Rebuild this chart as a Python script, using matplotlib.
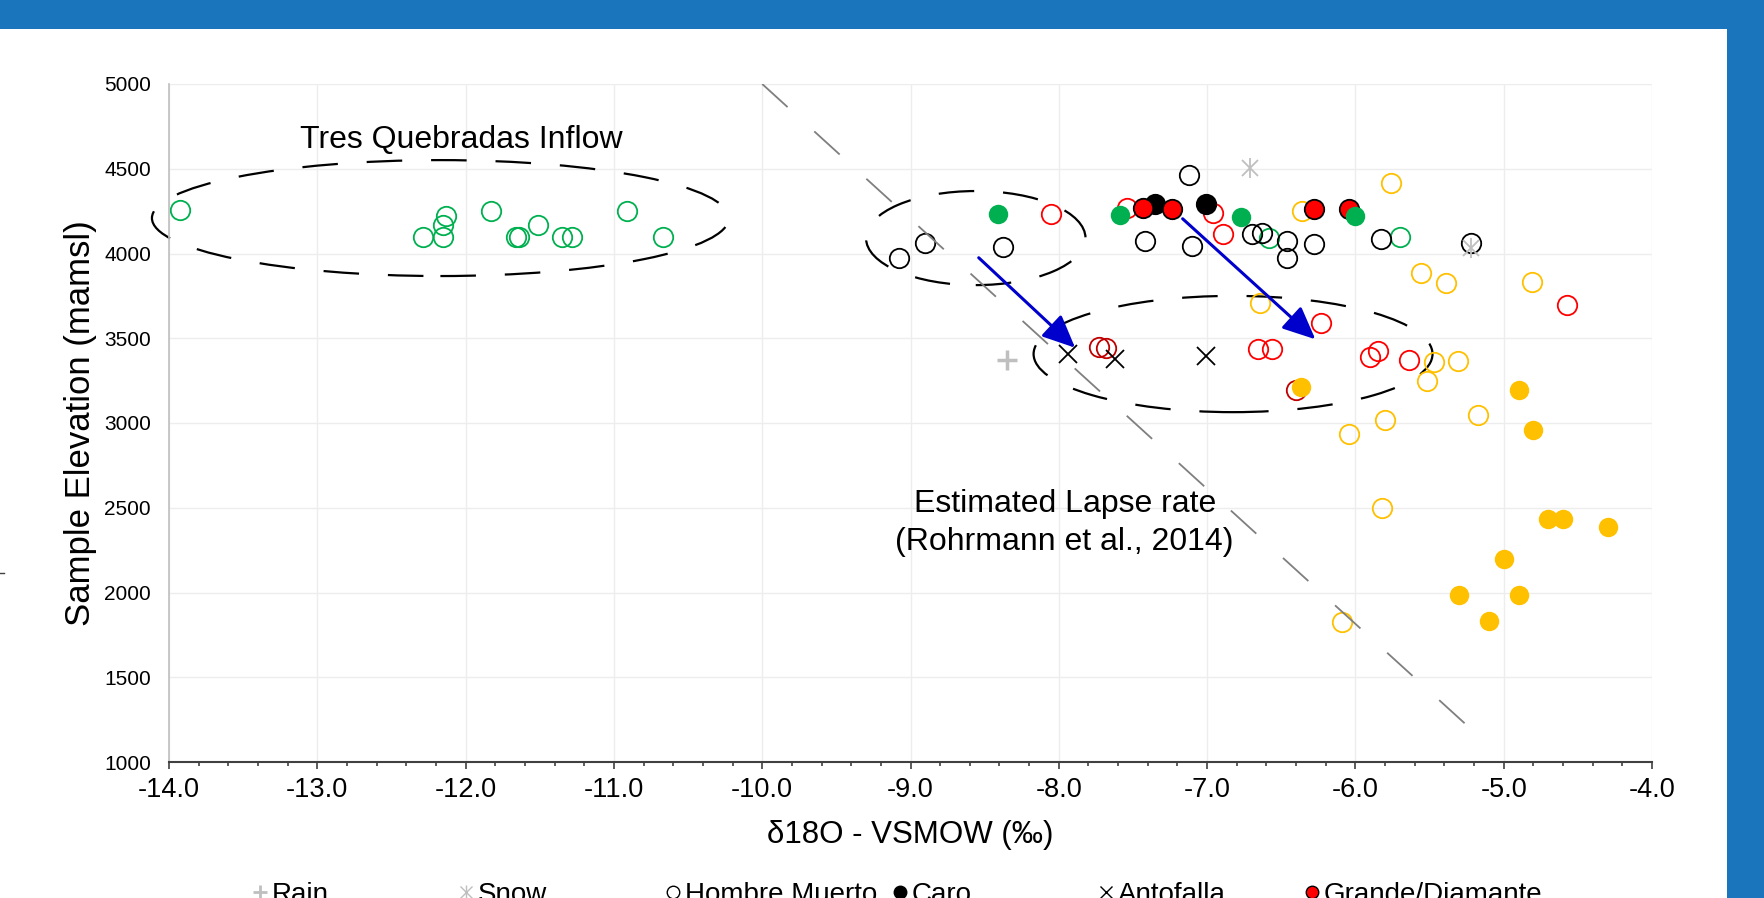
import matplotlib
matplotlib.use("Agg")
import matplotlib.pyplot as plt
from matplotlib.patches import Ellipse, Rectangle
from matplotlib.lines import Line2D

# values (d18O in permil, elevation in m asl)
rain_x = [-8.35]
rain_y = [3370]

snow_x = [-6.71, -5.22]
snow_y = [4502, 4031]

hombre_x = [-9.08, -8.90, -8.375, -7.42, -7.12, -7.10, -6.70, -6.63, -6.46, -6.46, -6.28, -5.83, -5.22]
hombre_y = [3972, 4064, 4040, 4074, 4463, 4044, 4115, 4123, 4074, 3975, 4056, 4083, 4060]

caro_x = [-7.35, -7.005]
caro_y = [4292, 4292]

antofalla_x = [-7.94, -7.62, -7.01]
antofalla_y = [3407, 3378, 3395]

grande_x = [-7.43, -7.24, -6.28, -6.04]
grande_y = [4267, 4262, 4262, 4262]

tresq_x = [-13.925, -12.29, -12.155, -12.15, -12.13, -11.83, -11.66, -11.64, -11.51,
           -11.35, -11.28, -10.91, -10.67, -6.58, -5.70]
tresq_y = [4257, 4095, 4095, 4168, 4223, 4251, 4095, 4095, 4166,
           4095, 4099, 4251, 4095, 4093, 4095]

green_fill_x = [-8.41, -7.59, -6.77, -6.00]
green_fill_y = [4231, 4227, 4217, 4223]

red_open_x = [-8.05, -7.54, -6.96, -6.89, -6.66, -6.56, -6.23, -5.90, -5.85, -5.64, -4.57]
red_open_y = [4231, 4267, 4237, 4113, 3435, 3435, 3592, 3387, 3427, 3372, 3696]

darkred_open_x = [-7.73, -7.68, -6.40]
darkred_open_y = [3450, 3441, 3195]

yellow_open_x = [-6.645, -6.36, -5.76, -5.56, -5.39, -4.81, -5.47, -5.31, -5.52,
                 -5.17, -5.80, -6.04, -5.82, -6.09]
yellow_open_y = [3706, 4250, 4414, 3883, 3828, 3834, 3362, 3365, 3246,
                 3047, 3015, 2937, 2498, 1824]

yellow_fill_x = [-6.37, -4.90, -4.80, -4.70, -4.60, -4.30, -5.00, -5.30, -4.90, -5.10]
yellow_fill_y = [3211, 3195, 2957, 2436, 2436, 2386, 2199, 1983, 1983, 1834]

# lapse-rate line end points and the grouping ellipses (cx, cy, width, height)
lapse_x = [-10.0, -5.19]
lapse_y = [5000, 1170]
groups = [(-12.17, 4209, 3.89, 684), (-8.56, 4091, 1.48, 555), (-6.825, 3407, 2.69, 686)]
shift_arrows = [((-8.54, 3975), (-7.89, 3444)), ((-7.165, 4205), (-6.27, 3494))]

legend_names = ["Rain", "Snow", "Hombre Muerto", "Caro", "Antofalla", "Grande/Diamante"]

plt.rcParams['font.family'] = ['Liberation Sans', 'DejaVu Sans']

BLUE = '#1B75BC'
GREEN = '#00B050'
YELLOW = '#FFC000'


def draw_points(ax):
    ms = 14
    mew = 1.3
    opn = dict(linestyle='none', marker='o', ms=ms, mew=mew, mfc='none')
    ax.plot(tresq_x, tresq_y, mec=GREEN, **opn)
    ax.plot(hombre_x, hombre_y, mec='black', **opn)
    ax.plot(red_open_x, red_open_y, mec='#FF0000', **opn)
    ax.plot(darkred_open_x, darkred_open_y, mec='#C00000', **opn)
    ax.plot(yellow_open_x, yellow_open_y, mec=YELLOW, **opn)

    ax.plot(rain_x, rain_y, linestyle='none', marker='+', ms=14, mew=2.5, color='#BFBFBF')
    # snow asterisk = an x with a vertical bar through it
    ax.plot(snow_x, snow_y, linestyle='none', marker='x', ms=12, mew=1.3, color='#BFBFBF')
    ax.plot(snow_x, snow_y, linestyle='none', marker='|', ms=15, mew=1.3, color='#BFBFBF')
    ax.plot(antofalla_x, antofalla_y, linestyle='none', marker='x', ms=13, mew=1.3, color='black')

    ax.plot(caro_x, caro_y, linestyle='none', marker='o', ms=ms, mew=mew, mfc='black', mec='black')
    ax.plot(grande_x, grande_y, linestyle='none', marker='o', ms=ms, mew=mew, mfc='#FF0000', mec='black')
    ax.plot(green_fill_x, green_fill_y, linestyle='none', marker='o', ms=ms, mew=0, mfc=GREEN)
    ax.plot(yellow_fill_x, yellow_fill_y, linestyle='none', marker='o', ms=ms, mew=0, mfc=YELLOW)


def draw_annotations(ax):
    ax.plot(lapse_x, lapse_y, color='#7F7F7F', lw=1.3, dashes=(19, 20))

    for cx, cy, w, h in groups:
        ax.add_patch(Ellipse((cx, cy), w, h, fill=False, edgecolor='black', lw=1.6,
                             linestyle=(0, (16, 13)), clip_on=False))

    for start, end in shift_arrows:
        ax.annotate('', xy=end, xytext=start,
                    arrowprops=dict(arrowstyle='-|>,head_length=1.0,head_width=0.45',
                                    color='#0000CC', lw=2.2, mutation_scale=20,
                                    shrinkA=0, shrinkB=0))

    ax.text(-12.03, 4667, 'Tres Quebradas Inflow', fontsize=23, ha='center', va='center')
    ax.text(-7.96, 2522, 'Estimated Lapse rate', fontsize=23, ha='center', va='center')
    ax.text(-7.96, 2298, '(Rohrmann et al., 2014)', fontsize=23, ha='center', va='center')


def draw_legend(fig):
    # legend row sits at the very bottom, partly cut off like in the screenshot
    W, H = 1764.0, 898.0
    marker_px = [260, 466, 673, 900, 1106, 1312]
    styles = [[dict(marker='+', color='#BFBFBF', mew=2, ms=10)],
              [dict(marker='x', color='#BFBFBF', mew=1, ms=8),
               dict(marker='|', color='#BFBFBF', mew=1, ms=10)],
              [dict(marker='o', mfc='none', mec='black', mew=1, ms=9)],
              [dict(marker='o', mfc='black', mec='black', mew=1, ms=9)],
              [dict(marker='x', color='black', mew=1, ms=8)],
              [dict(marker='o', mfc='#FF0000', mec='black', mew=1, ms=9)]]
    for name, px, sts in zip(legend_names, marker_px, styles):
        for st in sts:
            fig.add_artist(Line2D([px / W], [6 / H], linestyle='none',
                                  transform=fig.transFigure, **st))
        fig.text((px + 12) / W, -4 / H, name, fontsize=20, ha='left', va='baseline')


def plot_chart():
    fig = plt.figure(figsize=(17.64, 8.98), dpi=100)
    fig.patch.set_facecolor('white')

    # blue page frame around the chart
    fig.add_artist(Rectangle((0, 1 - 29 / 898), 1, 29 / 898, transform=fig.transFigure,
                             facecolor=BLUE, edgecolor='none'))
    fig.add_artist(Rectangle((1727 / 1764, 0), 1 - 1727 / 1764, 1, transform=fig.transFigure,
                             facecolor=BLUE, edgecolor='none'))
    fig.add_artist(Line2D([0, 4 / 1764], [325 / 898, 325 / 898], color='#404040', lw=1,
                          transform=fig.transFigure))

    ax = fig.add_axes([169 / 1764, 136 / 898, 1483 / 1764, 678 / 898])
    ax.set_xlim(-14, -4)
    ax.set_ylim(1000, 5000)
    ax.set_xticks([x for x in range(-14, -3)])
    ax.set_xticklabels([f'{x:.1f}' for x in range(-14, -3)])
    ax.set_xticks([-14 + 0.2 * i for i in range(51)], minor=True)
    ax.set_yticks(range(1000, 5001, 500))
    ax.grid(True, which='major', color='#EDEDED', lw=1)
    ax.set_axisbelow(True)

    for side in ['top', 'right']:
        ax.spines[side].set_visible(False)
    ax.spines['left'].set_color('#BFBFBF')
    ax.spines['left'].set_linewidth(1.2)
    ax.spines['bottom'].set_color('#404040')
    ax.spines['bottom'].set_linewidth(1.5)

    ax.tick_params(axis='x', which='major', direction='out', length=5, width=1.2,
                   color='#404040', labelsize=19.5, pad=6)
    ax.tick_params(axis='x', which='minor', direction='out', length=3, width=1.2, color='#404040')
    ax.tick_params(axis='y', length=0, labelsize=15, pad=13)

    ax.set_xlabel('δ18O - VSMOW (‰)', fontsize=22.5)
    ax.xaxis.set_label_coords(0.5, -0.085)
    ax.set_ylabel('Sample Elevation (mamsl)', fontsize=25)
    ax.yaxis.set_label_coords(-0.0486, 0.5)

    draw_points(ax)
    draw_annotations(ax)
    draw_legend(fig)

    fig.savefig('out.png', dpi=100)


if __name__ == "__main__":
    plot_chart()
